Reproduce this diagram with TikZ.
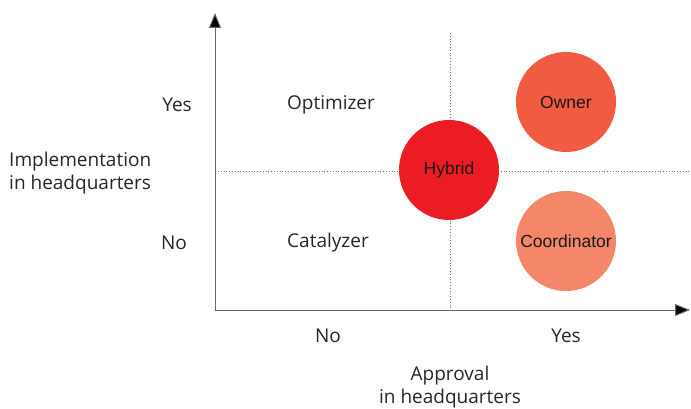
\documentclass[tikz,border=0pt]{standalone}
\usepackage{fontspec}
\setmainfont{Open Sans}
\newfontfamily\bubblefont{Liberation Sans}
\usetikzlibrary{arrows.meta}
\definecolor{hybridc}{HTML}{EC1C24}
\definecolor{ownerc}{HTML}{F05B41}
\definecolor{coordc}{HTML}{F4876A}
\begin{document}
\begin{tikzpicture}[x=1pt,y=-1pt,
  lbl/.style={font=\fontsize{19}{23}\selectfont, text=black!85},
  bubble/.style={circle, minimum size=100pt, inner sep=0pt, font=\bubblefont\fontsize{17.5}{20}\selectfont, text=black!90},
  axis/.style={draw=black!60, line width=1pt, -{Triangle[length=15pt,width=12pt,fill=black]}},
  guide/.style={draw=black!55, line width=0.8pt, dotted}]
\useasboundingbox (0,0) rectangle (691,409);
\coordinate (o) at (215,310);
\coordinate (ytip) at (215,13);
\coordinate (xtip) at (690,310);
\coordinate (vt) at (450,33);
\coordinate (vb) at (450,310);
\coordinate (hl) at (218,171);
\coordinate (hr) at (691,171);
\draw[guide] (vt) -- (vb);
\draw[guide] (hl) -- (hr);
\draw[axis] (o) -- (ytip);
\draw[axis] (o) -- (xtip);
\node[bubble, fill=hybridc] (hybrid) at (449,170) {Hybrid};
\node[bubble, fill=ownerc] (owner) at (566,102) {Owner};
\node[bubble, fill=coordc] (coord) at (566,241) {Coordinator};
\node[lbl] (yyes) at (177,105) {Yes};
\node[lbl] (yno) at (174,243) {No};
\node[lbl] (opt) at (331,105) {Optimizer};
\node[lbl] (cat) at (328,243) {Catalyzer};
\node[lbl] (xno) at (328,336) {No};
\node[lbl] (xyes) at (566,336) {Yes};
\node[lbl, anchor=west, align=left, inner sep=0pt] (ylab) at (9,173) {Implementation\\in headquarters};
\node[lbl, align=center] (xlab) at (450,387) {Approval\\in headquarters};
\end{tikzpicture}
\end{document}
